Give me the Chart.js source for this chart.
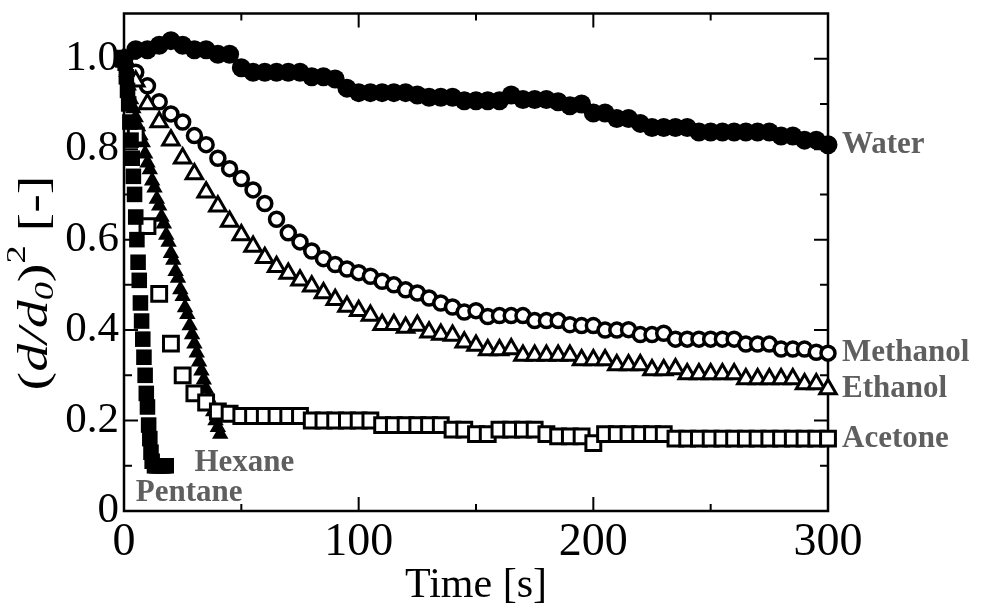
<!DOCTYPE html>
<html lang="en">
<head>
<meta charset="UTF-8">
<title>Droplet evaporation</title>
<style>
  body { margin: 0; background: #fff; }
  canvas { display: block; }
</style>
</head>
<body>
<canvas id="evapChart" width="988" height="613"></canvas>

<script src="https://cdn.jsdelivr.net/npm/chart.js"></script>
<script>
// sampling times [s] shared by water, methanol, ethanol and acetone
const timeSec = [
  0, 5, 10, 15, 20, 25, 30, 35, 40, 45,
  50, 55, 60, 65, 70, 75, 80, 85, 90, 95,
  100, 105, 110, 115, 120, 125, 130, 135, 140, 145,
  150, 155, 160, 165, 170, 175, 180, 185, 190, 195,
  200, 205, 210, 215, 220, 225, 230, 235, 240, 245,
  250, 255, 260, 265, 270, 275, 280, 285, 290, 295, 300
];

const water = [
  1.00, 1.02, 1.02, 1.03, 1.04, 1.03, 1.02, 1.02, 1.01, 1.01,
  0.98, 0.97, 0.97, 0.97, 0.97, 0.97, 0.96, 0.96, 0.955, 0.935,
  0.925, 0.925, 0.925, 0.925, 0.925, 0.92, 0.915, 0.915, 0.915, 0.907,
  0.907, 0.907, 0.907, 0.92, 0.91, 0.91, 0.91, 0.905, 0.896, 0.90,
  0.88, 0.88, 0.868, 0.868, 0.857, 0.848, 0.848, 0.848, 0.848, 0.838,
  0.838, 0.838, 0.838, 0.838, 0.838, 0.838, 0.829, 0.829, 0.82, 0.82, 0.81
];

const methanol = [
  1.00, 0.97, 0.94, 0.905, 0.878, 0.86, 0.83, 0.81, 0.78, 0.757,
  0.735, 0.71, 0.68, 0.645, 0.615, 0.595, 0.575, 0.558, 0.545, 0.535,
  0.527, 0.519, 0.508, 0.50, 0.489, 0.482, 0.471, 0.46, 0.451, 0.44,
  0.443, 0.43, 0.432, 0.432, 0.432, 0.421, 0.421, 0.421, 0.412, 0.41,
  0.41, 0.40, 0.40, 0.401, 0.39, 0.39, 0.393, 0.38, 0.38, 0.38,
  0.38, 0.38, 0.38, 0.369, 0.369, 0.369, 0.358, 0.358, 0.358, 0.351, 0.349
];

const ethanol = [
  1.00, 0.95, 0.90, 0.86, 0.82, 0.78, 0.745, 0.705, 0.674, 0.64,
  0.61, 0.585, 0.56, 0.54, 0.525, 0.51, 0.497, 0.482, 0.467, 0.452,
  0.443, 0.432, 0.412, 0.412, 0.406, 0.41, 0.395, 0.39, 0.388, 0.373,
  0.366, 0.356, 0.356, 0.358, 0.344, 0.344, 0.344, 0.344, 0.344, 0.334,
  0.334, 0.334, 0.323, 0.323, 0.323, 0.312, 0.312, 0.314, 0.303, 0.303,
  0.303, 0.303, 0.303, 0.292, 0.292, 0.292, 0.292, 0.292, 0.281, 0.281, 0.27
];

const acetone = [
  1.00, 0.83, 0.63, 0.48, 0.37, 0.30, 0.26, 0.24, 0.22, 0.215,
  0.21, 0.21, 0.21, 0.21, 0.21, 0.21, 0.20, 0.20, 0.20, 0.20,
  0.20, 0.20, 0.19, 0.19, 0.19, 0.19, 0.19, 0.19, 0.18, 0.18,
  0.17, 0.17, 0.18, 0.18, 0.18, 0.18, 0.17, 0.165, 0.165, 0.165,
  0.15, 0.17, 0.17, 0.17, 0.17, 0.17, 0.17, 0.16, 0.16, 0.16,
  0.16, 0.16, 0.16, 0.16, 0.16, 0.16, 0.16, 0.16, 0.16, 0.16, 0.16
];

// hexane is sampled every second
const hexaneTime = [
  0, 1, 2, 3, 4, 5, 6, 7, 8, 9, 10, 11, 12, 13, 14, 15, 16, 17, 18, 19, 20,
  21, 22, 23, 24, 25, 26, 27, 28, 29, 30, 31, 32, 33, 34, 35, 36, 37, 38, 39, 40, 41
];
const hexane = [
  1.00, 0.97, 0.94, 0.91, 0.89, 0.87, 0.85, 0.83, 0.815, 0.79, 0.77,
  0.755, 0.73, 0.715, 0.69, 0.675, 0.65, 0.635, 0.61, 0.595, 0.57,
  0.555, 0.53, 0.515, 0.49, 0.475, 0.45, 0.435, 0.41, 0.39, 0.37,
  0.35, 0.33, 0.31, 0.29, 0.27, 0.25, 0.235, 0.22, 0.20, 0.185, 0.17
];

// pentane evaporates within ~20 s
const pentaneTime = [
  0, 0.5, 1, 1.5, 2, 2.5, 3, 3.5, 4, 4.5, 5, 5.5, 6, 6.5, 7, 7.5, 8, 8.5,
  9, 9.5, 10, 10.5, 11, 11.5, 12, 13, 14, 15, 16, 17, 18
];
const pentane = [
  1.00, 0.99, 0.96, 0.93, 0.90, 0.86, 0.82, 0.78, 0.74, 0.70, 0.65, 0.60,
  0.55, 0.51, 0.46, 0.42, 0.38, 0.34, 0.30, 0.26, 0.23, 0.19, 0.16, 0.13,
  0.11, 0.10, 0.10, 0.10, 0.10, 0.10, 0.10
];

const yTicks = [0, 0.2, 0.4, 0.6, 0.8, 1.0];
const xTicks = [0, 100, 200, 300];

// free-standing labels for the two fast-evaporating fuels (data units)
const sideNotes = [
  { text: 'Hexane', x: 30, y: 0.107 },
  { text: 'Pentane', x: 5, y: 0.04 }
];

const serif = "'Liberation Serif', 'Times New Roman', serif";
const noteColor = '#5f5f5f';

function pairs(xs, ys) {
  return ys.map((v, i) => ({ x: xs[i], y: v }));
}

// frame + inward tick marks on all four sides
const frameTicks = {
  id: 'frameTicks',
  beforeDatasetsDraw(chart) {
    const { ctx, chartArea: a, scales: { x, y } } = chart;
    ctx.save();
    ctx.strokeStyle = '#000';
    ctx.lineWidth = 2.5;
    ctx.strokeRect(a.left, a.top, a.right - a.left, a.bottom - a.top);
    ctx.lineWidth = 2;
    ctx.beginPath();
    for (let k = 1; k <= 10; k++) {
      const py = y.getPixelForValue(k / 10);
      const len = k % 2 === 0 ? 14 : 8;
      ctx.moveTo(a.left, py); ctx.lineTo(a.left + len, py);
      ctx.moveTo(a.right, py); ctx.lineTo(a.right - len, py);
    }
    for (let t = 50; t < 300; t += 50) {
      const px = x.getPixelForValue(t);
      const len = t % 100 === 0 ? 14 : 7;
      ctx.moveTo(px, a.bottom); ctx.lineTo(px, a.bottom - len);
      ctx.moveTo(px, a.top); ctx.lineTo(px, a.top + len);
    }
    ctx.stroke();
    ctx.restore();
  }
};

// y-axis title (d/d0)^2 [-] with italics, subscript and superscript
const yTitle = {
  id: 'yTitle',
  afterDraw(chart) {
    const { ctx } = chart;
    const size = 43;
    const parts = [
      { t: '(', style: '', scale: 1, dy: 0 },
      { t: 'd/d', style: 'italic ', scale: 1, dy: 0 },
      { t: '0', style: 'italic ', scale: 0.65, dy: 0.22 },
      { t: ')', style: '', scale: 1, dy: 0 },
      { t: '2', style: '', scale: 0.65, dy: -0.42 },
      { t: ' [-]', style: '', scale: 1, dy: 0 }
    ];
    ctx.save();
    let total = 0;
    parts.forEach(p => {
      ctx.font = p.style + (size * p.scale) + 'px ' + serif;
      p.w = ctx.measureText(p.t).width;
      total += p.w;
    });
    ctx.translate(36, 283);
    ctx.rotate(-Math.PI / 2);
    ctx.scale(1.3, 1);
    ctx.fillStyle = '#000';
    ctx.textBaseline = 'middle';
    let cx = -total / 2;
    parts.forEach(p => {
      ctx.font = p.style + (size * p.scale) + 'px ' + serif;
      ctx.fillText(p.t, cx, p.dy * size);
      cx += p.w;
    });
    ctx.restore();
  }
};

// series names beside the curves
const seriesNames = {
  id: 'seriesNames',
  afterDraw(chart) {
    const { ctx, scales: { x, y } } = chart;
    ctx.save();
    ctx.font = 'bold 31px ' + serif;
    ctx.fillStyle = noteColor;
    ctx.textBaseline = 'middle';
    chart.data.datasets.forEach(ds => {
      if (!ds.endLabel) return;
      const last = ds.data[ds.data.length - 1];
      ctx.fillText(ds.label, x.getPixelForValue(last.x) + 14, y.getPixelForValue(last.y));
    });
    sideNotes.forEach(n => {
      ctx.fillText(n.text, x.getPixelForValue(n.x), y.getPixelForValue(n.y));
    });
    ctx.restore();
  }
};

const openStyle = { backgroundColor: '#fff', borderColor: '#000' };
const filledStyle = { backgroundColor: '#000', borderColor: '#000' };

new Chart(document.getElementById('evapChart'), {
  type: 'scatter',
  data: {
    datasets: [
      { label: 'Pentane', data: pairs(pentaneTime, pentane), pointStyle: 'rect',
        pointRadius: 11, borderWidth: 0, ...filledStyle },
      { label: 'Acetone', data: pairs(timeSec, acetone), pointStyle: 'rect',
        pointRadius: 10.5, borderWidth: 3, endLabel: true, ...openStyle },
      { label: 'Hexane', data: pairs(hexaneTime, hexane), pointStyle: 'triangle',
        pointRadius: 9.5, borderWidth: 0, ...filledStyle },
      { label: 'Ethanol', data: pairs(timeSec, ethanol), pointStyle: 'triangle',
        pointRadius: 9.5, borderWidth: 3, endLabel: true, ...openStyle },
      { label: 'Methanol', data: pairs(timeSec, methanol), pointStyle: 'circle',
        pointRadius: 7, borderWidth: 3.5, endLabel: true, ...openStyle },
      { label: 'Water', data: pairs(timeSec, water), pointStyle: 'circle',
        pointRadius: 9.5, borderWidth: 0, endLabel: true, ...filledStyle }
    ].map(ds => Object.assign(ds, { showLine: false, clip: false, pointHoverRadius: ds.pointRadius }))
  },
  options: {
    responsive: false,
    animation: false,
    layout: { padding: { left: 0, right: 160, top: 9, bottom: 0 } },
    plugins: {
      legend: { display: false },
      tooltip: { enabled: false }
    },
    scales: {
      x: {
        type: 'linear',
        min: 0,
        max: 300,
        afterFit: s => { s.height = 102; s.paddingLeft = 0; s.paddingRight = 0; },
        afterBuildTicks: s => { s.ticks = xTicks.map(v => ({ value: v })); },
        grid: { display: false, drawTicks: false },
        border: { display: false },
        ticks: {
          color: '#000',
          padding: 4,
          maxRotation: 0,
          font: { family: serif, size: 46 }
        },
        title: {
          display: true,
          text: 'Time [s]',
          color: '#000',
          padding: { top: 0, bottom: 2 },
          font: { family: serif, size: 42 }
        }
      },
      y: {
        min: 0,
        max: 1.1,
        afterFit: s => { s.width = 124; s.paddingTop = 0; s.paddingBottom = 0; },
        afterBuildTicks: s => { s.ticks = yTicks.map(v => ({ value: v })); },
        grid: { display: false, drawTicks: false },
        border: { display: false },
        ticks: {
          color: '#000',
          padding: 5,
          font: { family: serif, size: 43 },
          callback: v => v === 0 ? '0' : v.toFixed(1)
        }
      }
    }
  },
  plugins: [frameTicks, yTitle, seriesNames]
});
</script>
</body>
</html>
